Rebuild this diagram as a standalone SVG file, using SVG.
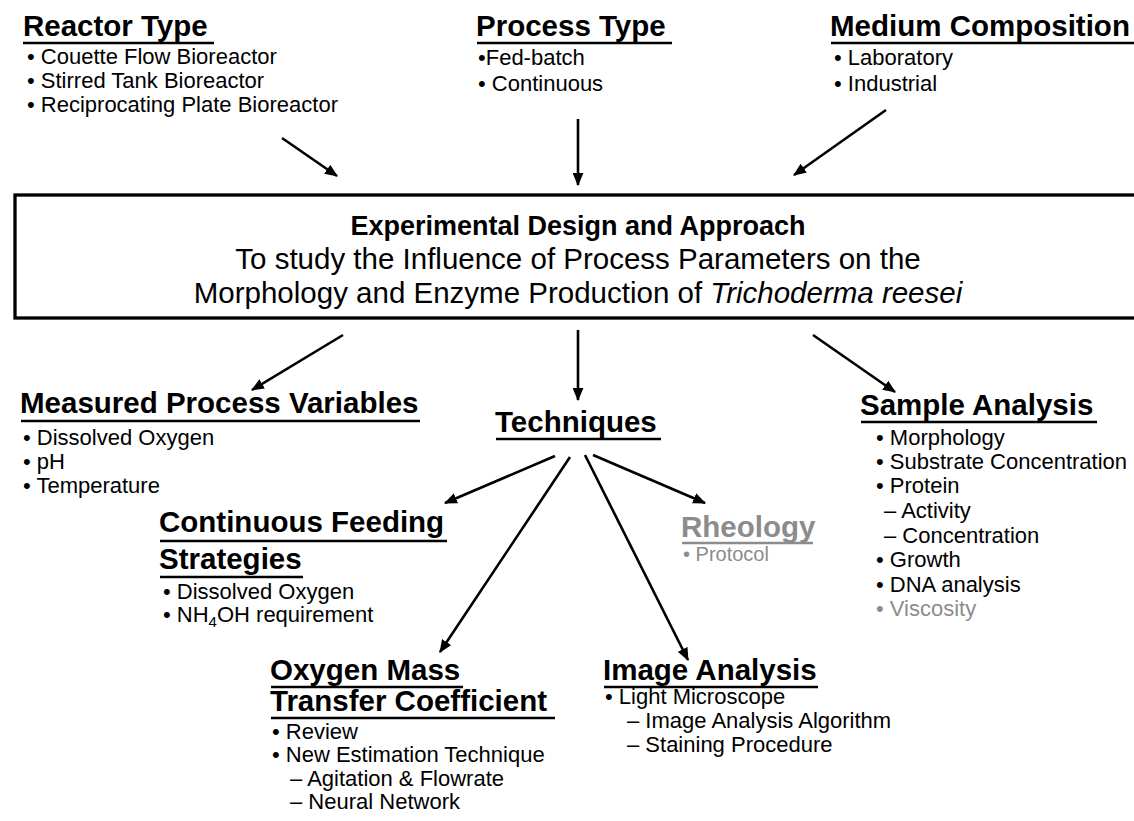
<svg xmlns="http://www.w3.org/2000/svg" width="1134" height="821" viewBox="0 0 1134 821">
<style>
text{font-family:"Liberation Sans",Arial,sans-serif;fill:#000}
.t{font-weight:bold;font-size:29.5px}
.b{font-size:22px}
.bx{font-size:29.5px}
.g{fill:#8c8c8c}
.ul{stroke:#000;stroke-width:2.6}
.ulg{stroke:#8c8c8c;stroke-width:2.6}
.c{stroke:#000;stroke-width:2.6;fill:none;marker-end:url(#ah)}
</style>
<defs>
<marker id="ah" viewBox="0 0 12 10" refX="11" refY="5" markerWidth="13" markerHeight="11" orient="auto" markerUnits="userSpaceOnUse"><path d="M0,0 L12,5 L0,10 z" fill="#000"/></marker>
</defs>
<rect width="1134" height="821" fill="#fff"/>

<g id="reactor-type">
<text class="t" x="23" y="36">Reactor Type</text>
<line class="ul" x1="23" y1="43" x2="214" y2="43"/>
<text class="b" x="27" y="64">• Couette Flow Bioreactor</text>
<text class="b" x="27" y="88">• Stirred Tank Bioreactor</text>
<text class="b" x="27" y="112">• Reciprocating Plate Bioreactor</text>
</g>

<g id="process-type">
<text class="t" x="476" y="36">Process Type</text>
<line class="ul" x1="477" y1="43" x2="672" y2="43"/>
<text class="b" x="478" y="65">•Fed-batch</text>
<text class="b" x="478" y="91">• Continuous</text>
</g>

<g id="medium-composition">
<text class="t" x="830" y="36">Medium Composition</text>
<line class="ul" x1="831" y1="43" x2="1134" y2="43"/>
<text class="b" x="834" y="65">• Laboratory</text>
<text class="b" x="834" y="91">• Industrial</text>
</g>

<g id="experimental-design">
<rect x="15" y="195" width="1130" height="123" fill="none" stroke="#000" stroke-width="3.3"/>
<text x="578" y="235" text-anchor="middle" font-weight="bold" font-size="27">Experimental Design and Approach</text>
<text class="bx" x="578" y="269" text-anchor="middle">To study the Influence of Process Parameters on the</text>
<text class="bx" x="578" y="303" text-anchor="middle">Morphology and Enzyme Production of <tspan font-style="italic">Trichoderma reesei</tspan></text>
</g>

<g id="measured-process-variables">
<text class="t" x="20" y="413">Measured Process Variables</text>
<line class="ul" x1="21" y1="421" x2="420" y2="421"/>
<text class="b" x="23" y="445">• Dissolved Oxygen</text>
<text class="b" x="23" y="469">• pH</text>
<text class="b" x="23" y="493">• Temperature</text>
</g>

<g id="techniques">
<text class="t" x="495" y="432">Techniques</text>
<line class="ul" x1="496" y1="439" x2="661" y2="439"/>
</g>

<g id="sample-analysis">
<text class="t" x="860" y="415">Sample Analysis</text>
<line class="ul" x1="861" y1="422" x2="1097" y2="422"/>
<text class="b" x="876" y="445">• Morphology</text>
<text class="b" x="876" y="469">• Substrate Concentration</text>
<text class="b" x="876" y="493">• Protein</text>
<text class="b" x="884" y="518">– Activity</text>
<text class="b" x="884" y="543">– Concentration</text>
<text class="b" x="876" y="567">• Growth</text>
<text class="b" x="876" y="592">• DNA analysis</text>
<text class="b g" x="876" y="616">• Viscosity</text>
</g>

<g id="continuous-feeding">
<text class="t" x="159" y="532">Continuous Feeding</text>
<line class="ul" x1="160" y1="541" x2="447" y2="541"/>
<text class="t" x="159" y="569">Strategies</text>
<line class="ul" x1="160" y1="577" x2="303" y2="577"/>
<text class="b" x="163" y="599">• Dissolved Oxygen</text>
<text class="b" x="163" y="622">• NH<tspan font-size="15" dy="5">4</tspan><tspan dy="-5">OH requirement</tspan></text>
</g>

<g id="rheology">
<text class="t g" x="681" y="537">Rheology</text>
<line class="ulg" x1="682" y1="543" x2="813" y2="543"/>
<text class="g" x="683" y="561" font-size="20">• Protocol</text>
</g>

<g id="oxygen-mass-transfer">
<text class="t" x="270" y="680">Oxygen Mass</text>
<line class="ul" x1="271" y1="687" x2="463" y2="687"/>
<text class="t" x="270" y="711">Transfer Coefficient</text>
<line class="ul" x1="271" y1="718" x2="555" y2="718"/>
<text class="b" x="272" y="739">• Review</text>
<text class="b" x="272" y="762">• New Estimation Technique</text>
<text class="b" x="290" y="786">– Agitation &amp; Flowrate</text>
<text class="b" x="290" y="809">– Neural Network</text>
</g>

<g id="image-analysis">
<text class="t" x="603" y="680">Image Analysis</text>
<line class="ul" x1="604" y1="687" x2="818" y2="687"/>
<text class="b" x="605" y="704">• Light Microscope</text>
<text class="b" x="627" y="728">– Image Analysis Algorithm</text>
<text class="b" x="627" y="752">– Staining Procedure</text>
</g>

<g id="connectors">
<line class="c" x1="282" y1="138" x2="337" y2="176"/>
<line class="c" x1="578" y1="119" x2="578" y2="185"/>
<line class="c" x1="886" y1="110" x2="794" y2="175"/>
<line class="c" x1="343" y1="335" x2="252" y2="390"/>
<line class="c" x1="578" y1="330" x2="578" y2="400"/>
<line class="c" x1="813" y1="335" x2="895" y2="392"/>
<line class="c" x1="555" y1="456" x2="445" y2="503"/>
<line class="c" x1="570" y1="457" x2="440" y2="652"/>
<line class="c" x1="585" y1="455" x2="688" y2="660"/>
<line class="c" x1="593" y1="455" x2="705" y2="503"/>
</g>
</svg>
